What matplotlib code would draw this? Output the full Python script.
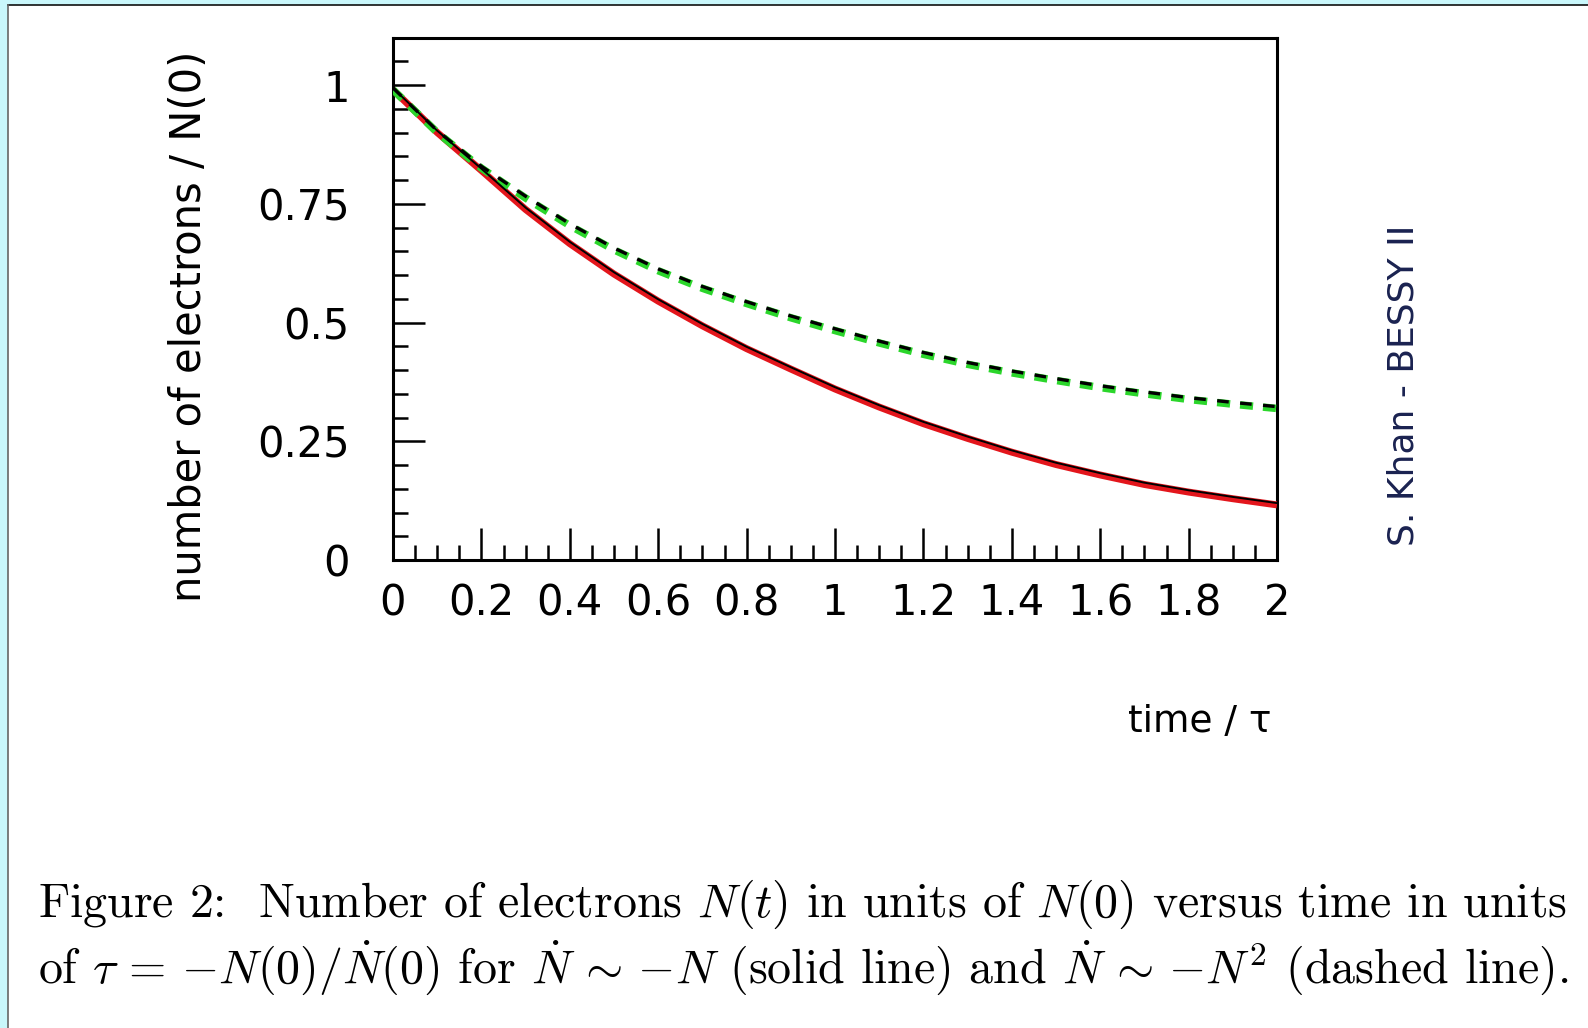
import matplotlib
import matplotlib.pyplot as plt
import matplotlib.transforms as mtransforms
from matplotlib.patches import Rectangle
from matplotlib.lines import Line2D
from matplotlib.ticker import MultipleLocator, FuncFormatter

matplotlib.use("Agg")

# values (time in units of tau)
time = [0.0, 0.1, 0.2, 0.3, 0.4, 0.5, 0.6, 0.7, 0.8, 0.9, 1.0,
        1.1, 1.2, 1.3, 1.4, 1.5, 1.6, 1.7, 1.8, 1.9, 2.0]
# solid line: dN/dt ~ -N
n_linear = [0.99, 0.90, 0.82, 0.738, 0.666, 0.602, 0.545, 0.493, 0.445, 0.402, 0.36,
            0.322, 0.287, 0.256, 0.227, 0.201, 0.179, 0.159, 0.143, 0.129, 0.116]
# dashed line: dN/dt ~ -N^2
n_square = [0.99, 0.90, 0.825, 0.762, 0.704, 0.653, 0.609, 0.572, 0.540, 0.510, 0.483,
            0.457, 0.433, 0.412, 0.394, 0.378, 0.363, 0.35, 0.338, 0.328, 0.319]

y_ticks = [0, 0.25, 0.5, 0.75, 1]
x_ticks = [0, 0.2, 0.4, 0.6, 0.8, 1.0, 1.2, 1.4, 1.6, 1.8, 2.0]

plt.rcParams["lines.scale_dashes"] = False
plt.rcParams["mathtext.fontset"] = "cm"

W, H = 1588, 1028
fig = plt.figure(figsize=(W / 100, H / 100), dpi=100)
fig.patch.set_facecolor("white")

# cyan frame strips (left and top) with thin dark edge
cyan = "#c9f7fb"
fig.add_artist(Rectangle((0, 0), 8 / W, 1, transform=fig.transFigure,
                         facecolor=cyan, edgecolor="none", zorder=0))
fig.add_artist(Rectangle((0, 1 - 5 / H), 1, 5 / H, transform=fig.transFigure,
                         facecolor=cyan, edgecolor="none", zorder=0))
fig.add_artist(Line2D([8 / W, 1], [1 - 5 / H, 1 - 5 / H], transform=fig.transFigure,
                      color="#111111", lw=1.2))
fig.add_artist(Line2D([8 / W, 8 / W], [0, 1 - 5 / H], transform=fig.transFigure,
                      color="#666666", lw=1.2))

ax = fig.add_axes([393 / W, 1 - 560 / H, 884 / W, 522.5 / H])
ax.set_xlim(0, 2)
ax.set_ylim(0, 1.1)

# solid: red underlay with thin black line on top
ax.plot(time, n_linear, color="#e3161c", lw=5.0, solid_capstyle="butt",
        solid_joinstyle="round", zorder=3)
up = mtransforms.offset_copy(ax.transData, fig=fig, x=0, y=1.8, units="dots")
ax.plot(time, n_linear, color="black", lw=1.4, transform=up, zorder=4)

# dashed: green underlay with black dashes on top
ax.plot(time, n_square, color="#2bd62b", lw=5.4, dashes=(9.4, 7.2), zorder=3)
ax.plot(time, n_square, color="black", lw=2.4, dashes=(8.4, 8.2), transform=up, zorder=4)

for side in ["left", "right", "top", "bottom"]:
    ax.spines[side].set_linewidth(2.2)

ax.xaxis.set_major_locator(MultipleLocator(0.2))
ax.xaxis.set_minor_locator(MultipleLocator(0.05))
ax.yaxis.set_major_locator(MultipleLocator(0.25))
ax.yaxis.set_minor_locator(MultipleLocator(0.05))
ax.set_xticks(x_ticks)
ax.set_yticks(y_ticks)
fmt = FuncFormatter(lambda v, p: f"{v:g}")
ax.xaxis.set_major_formatter(fmt)
ax.yaxis.set_major_formatter(fmt)

ax.tick_params(which="both", direction="in", top=False, right=False, width=1.8)
ax.tick_params(which="major", length=23)
ax.tick_params(which="minor", length=11)
ax.tick_params(axis="y", which="major", pad=31, labelsize=30)
ax.tick_params(axis="x", which="major", pad=16, labelsize=30)

fig.text(189 / W, 1 - 326 / H, "number of electrons / N(0)", rotation=90,
         ha="center", va="center", fontsize=30)
fig.text(1272 / W, 1 - 722 / H, "time / \u03c4", ha="right", va="center",
         fontsize=27)

# handwritten note on the right
fig.text(1403 / W, 1 - 385 / H, "S. Khan - BESSY II", rotation=90,
         ha="center", va="center", fontsize=26, color="#1a2250")

cap1 = r"Figure 2:  Number of electrons $N(t)$ in units of $N(0)$ versus time in units"
cap2 = (r"of $\tau\,=\,{-}N(0)/\dot{N}(0)$ for $\dot{N}\,\sim\,{-}N$ (solid line) and "
        r"$\dot{N}\,\sim\,{-}N^2$ (dashed line).")
fig.text(38 / W, 1 - 917 / H, cap1, ha="left", va="baseline", fontsize=34.5,
         family="cmr10")
fig.text(38 / W, 1 - 984 / H, cap2, ha="left", va="baseline", fontsize=34.5,
         family="cmr10")

plt.savefig("out.png", dpi=100)
plt.close()
